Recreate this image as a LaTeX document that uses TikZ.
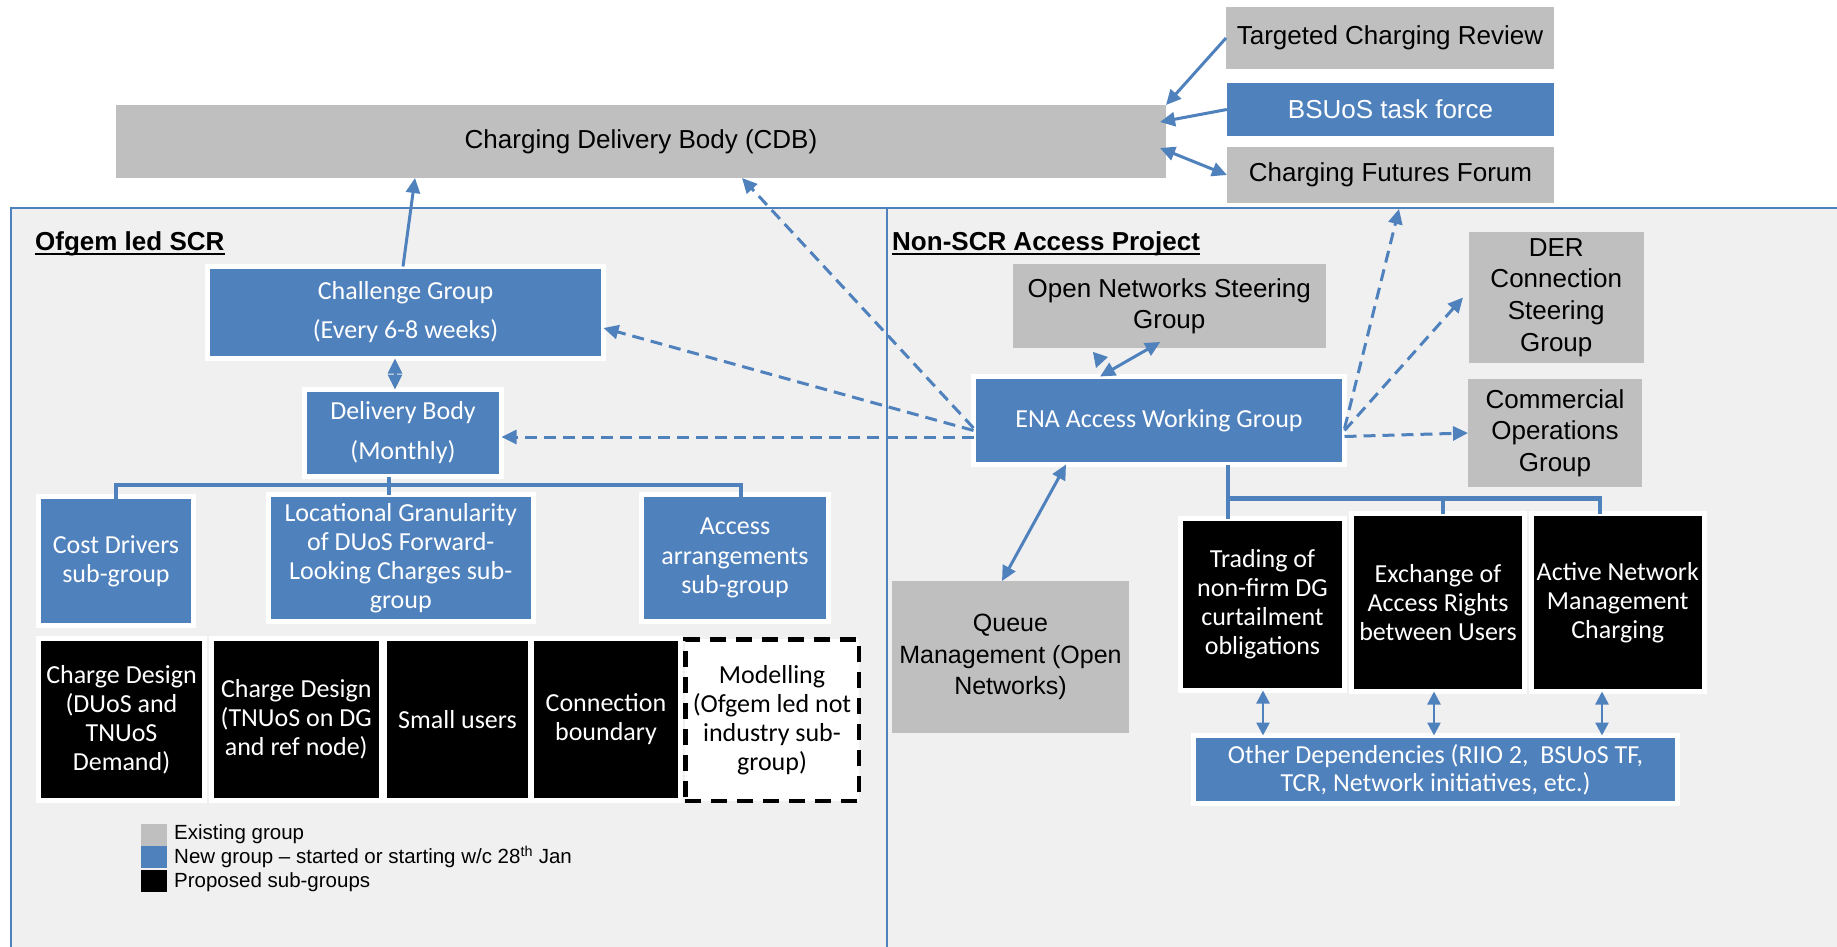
\documentclass[tikz,border=0pt]{standalone}
\usepackage{fontspec}
\setmainfont{Liberation Sans}
\newfontfamily\calfont{Carlito}
\usetikzlibrary{arrows.meta}
\definecolor{accblue}{HTML}{4F81BD}
\definecolor{greyfill}{HTML}{BFBFBF}
\definecolor{panelbg}{HTML}{F0F0F0}
\newcommand{\sz}[2]{\fontsize{#1pt}{#2pt}\selectfont}

\begin{document}
\begin{tikzpicture}[x=1pt,y=-1pt,
  grp/.style={rectangle, inner sep=0pt, outer sep=0pt, align=center, fill=greyfill, text=black},
  newgrp/.style={rectangle, inner sep=0pt, outer sep=0pt, align=center, fill=accblue, text=white, draw=white, line width=5pt},
  propgrp/.style={rectangle, inner sep=0pt, outer sep=0pt, align=center, fill=black, text=white, draw=white, line width=5pt},
  link/.style={accblue, line width=3pt, -{Triangle[length=15pt,width=14pt]}},
  dlink/.style={link, dash pattern=on 12pt off 7pt},
  bilink/.style={accblue, line width=3pt, {Triangle[length=15pt,width=14pt]}-{Triangle[length=15pt,width=14pt]}},
  smallbi/.style={accblue, line width=2.5pt, {Triangle[length=13pt,width=13pt]}-{Triangle[length=13pt,width=13pt]}},
  tree/.style={accblue, line width=4.5pt},
  keybox/.style={rectangle, inner sep=0pt, outer sep=0pt, minimum width=26pt, minimum height=22pt},
  keytext/.style={anchor=west, inner sep=0pt, font=\sz{20.5}{24}}
]
\useasboundingbox (0,0) rectangle (1837,947);
\fill[white] (0,0) rectangle (1837,947);

% the two project panels
\fill[panelbg] (10.6,208) rectangle (1850,960);
\draw[accblue, line width=2pt] (10.6,960) -- (10.6,208) -- (1850,208);
\draw[accblue, line width=2pt] (887,208) -- (887,960);

% top level bodies
\node[grp, minimum width=1050pt, minimum height=73pt, font=\sz{26}{31}] (cdb) at (641,141.5) {Charging Delivery Body (CDB)};
\node[grp, minimum width=328pt, minimum height=62pt, font=\sz{26}{31}] (tcr) at (1390,38) {Targeted Charging Review};
\node[rectangle, inner sep=0pt, fill=accblue, text=white, minimum width=327pt, minimum height=53pt, font=\sz{26}{31}] (bsuos) at (1390.5,109.5) {BSUoS task force};
\node[grp, minimum width=327pt, minimum height=56pt, font=\sz{26}{31}] (cff) at (1390.5,175) {Charging Futures Forum};

% panel titles
\node[anchor=base west, inner sep=0pt, font=\sz{26}{31}\bfseries] (ofgem) at (35,250) {Ofgem led SCR};
\draw[line width=2pt] ([yshift=-4pt]ofgem.base west) -- ([yshift=-4pt]ofgem.base east);
\node[anchor=base west, inner sep=0pt, font=\sz{26}{31}\bfseries] (nonscr) at (892,250) {Non-SCR Access Project};
\draw[line width=2pt] ([yshift=-4pt]nonscr.base west) -- ([yshift=-4pt]nonscr.base east);

% Ofgem led SCR
\node[newgrp, minimum width=396pt, minimum height=92pt, font=\calfont\sz{26}{39}] (chal) at (405.5,312.5) {Challenge Group\\(Every 6-8 weeks)};
\node[newgrp, minimum width=197pt, minimum height=87pt, font=\calfont\sz{26}{40}] (deliv) at (403,433) {Delivery Body\\(Monthly)};
\node[newgrp, minimum width=155pt, minimum height=129pt, font=\calfont\sz{26}{29}] (cost) at (116,561) {Cost Drivers\\sub-group};
\node[newgrp, minimum width=265.5pt, minimum height=127pt, font=\calfont\sz{26}{29}] (locg) at (400.75,558) {Locational Granularity\\of DUoS Forward-\\Looking Charges sub-\\group};
\node[newgrp, minimum width=187pt, minimum height=127pt, font=\calfont\sz{26}{29.5}] (accarr) at (735,558) {Access\\arrangements\\sub-group};

\node[propgrp, minimum width=166pt, minimum height=162pt, font=\calfont\sz{26}{29}] (cdone) at (121.5,719.5) {Charge Design\\(DUoS and\\TNUoS\\Demand)};
\node[propgrp, minimum width=169.5pt, minimum height=162pt, font=\calfont\sz{26}{29}] (cdtwo) at (296.25,719.5) {Charge Design\\(TNUoS on DG\\and ref node)};
\node[propgrp, minimum width=146pt, minimum height=162pt, font=\calfont\sz{26}{29}] (small) at (457.5,719.5) {Small users};
\node[propgrp, minimum width=149pt, minimum height=162pt, font=\calfont\sz{26}{29}] (conn) at (606,719.5) {Connection\\boundary};
\node[rectangle, inner sep=0pt, align=center, fill=white, draw=black, line width=4.5pt, dash pattern=on 16pt off 10pt, minimum width=173.5pt, minimum height=161.5pt, font=\calfont\sz{26}{29}] (model) at (772,720) {Modelling\\(Ofgem led not\\industry sub-\\group)};

% key
\node[keybox, fill=greyfill] (kone) at (154,835) {};
\node[keybox, fill=accblue] (ktwo) at (154,857) {};
\node[keybox, fill=black] (kthree) at (154,881) {};
\node[keytext] (ltone) at (174,834) {Existing group};
\node[keytext] (lttwo) at (174,857) {New group -- started or starting w/c 28\textsuperscript{th} Jan};
\node[keytext] (ltthree) at (174,882) {Proposed sub-groups};

% Non-SCR Access Project
\node[grp, minimum width=312.5pt, minimum height=84pt, font=\sz{26}{31}] (onsg) at (1169.25,306) {Open Networks Steering\\Group};
\node[grp, minimum width=174.5pt, minimum height=131pt, font=\sz{26}{31.7}] (der) at (1556.25,297.5) {DER\\Connection\\Steering\\Group};
\node[grp, minimum width=174pt, minimum height=108pt, font=\sz{26}{31.5}] (comm) at (1555,433) {Commercial\\Operations\\Group};
\node[newgrp, minimum width=371pt, minimum height=88pt, font=\calfont\sz{26}{31}] (ena) at (1159,420.5) {ENA Access Working Group};
\node[grp, minimum width=237pt, minimum height=152pt, font=\sz{25}{31.5}] (queue) at (1010.5,657) {Queue\\Management (Open\\Networks)};
\node[propgrp, minimum width=164pt, minimum height=172pt, font=\calfont\sz{26}{29}] (trad) at (1262.5,604.5) {Trading of\\non-firm DG\\curtailment\\obligations};
\node[propgrp, minimum width=173pt, minimum height=178pt, font=\calfont\sz{26}{29}] (exch) at (1438,602.5) {Exchange of\\Access Rights\\between Users};
\node[propgrp, minimum width=172.5pt, minimum height=178pt, font=\calfont\sz{26}{29}] (anm) at (1617.75,602.5) {Active Network\\Management\\Charging};
\node[newgrp, minimum width=484pt, minimum height=68pt, font=\calfont\sz{26}{28}] (other) at (1435.5,769.5) {Other Dependencies (RIIO 2, \ BSUoS TF,\\TCR, Network initiatives, etc.)};

% reporting lines into the CDB
\draw[link] ([xshift=-2.5pt]chal.north) -- ([xshift=-226pt]cdb.south);
\draw[bilink] ([xshift=-10.5pt]chal.south) -- ([xshift=-8pt]deliv.north);
\draw[link] (tcr.west) -- (cdb.north east);
\draw[link] (bsuos.west) -- ([xshift=-6pt,yshift=19.5pt]cdb.east);
\draw[bilink] ([xshift=-6pt,yshift=-6.5pt]cdb.east) -- (cff.west);

% links out of the ENA Access Working Group
\draw[dlink] ([yshift=-7.5pt]ena.west) -- ([xshift=101pt]cdb.south);
\draw[dlink] ([yshift=-10pt]ena.west) -- ([yshift=-15.5pt]chal.east);
\draw[dlink] ([yshift=-16.5pt]ena.west) -- ([yshift=-4pt]deliv.east);
\draw[dlink] ([yshift=-8pt]ena.east) -- ([xshift=8.5pt,yshift=-6pt]cff.south);
\draw[dlink] ([yshift=-10pt]ena.east) -- ([xshift=-6pt]der.west);
\draw[dlink] ([yshift=-16pt]ena.east) -- (comm.west);
\draw[bilink] ([xshift=-93pt]ena.south) -- ([xshift=-8.5pt]queue.north);
\draw[bilink] ([xshift=-59pt]ena.north) -- ([xshift=-9pt,yshift=6pt]onsg.south);
\fill[accblue] (1093,352) -- (1108,357) -- (1096,368) -- cycle;

% sub-group trees
\draw[tree] ([xshift=-14pt]deliv.south) -- ([xshift=-11.75pt]locg.north);
\draw[tree] ([yshift=-8pt]cost.north) -- ([yshift=11.5pt]cost.north) -| ([xshift=6pt,yshift=-8pt]accarr.north);
\draw[tree] ([xshift=69pt]ena.south) -- ([xshift=-34.5pt]trad.north);
\draw[tree] ([xshift=69pt,yshift=-34pt]ena.south) -| ([xshift=-17.75pt]anm.north);
\draw[tree] ([xshift=5pt]exch.north) -- ([xshift=5pt,yshift=15.5pt]exch.north);

% dependencies
\draw[smallbi] ([xshift=0.5pt]trad.south) -- ([xshift=-172.5pt]other.north);
\draw[smallbi] ([xshift=-4pt]exch.south) -- ([xshift=-1.5pt]other.north);
\draw[smallbi] ([xshift=-15.75pt]anm.south) -- ([xshift=166.5pt]other.north);
\end{tikzpicture}
\end{document}
